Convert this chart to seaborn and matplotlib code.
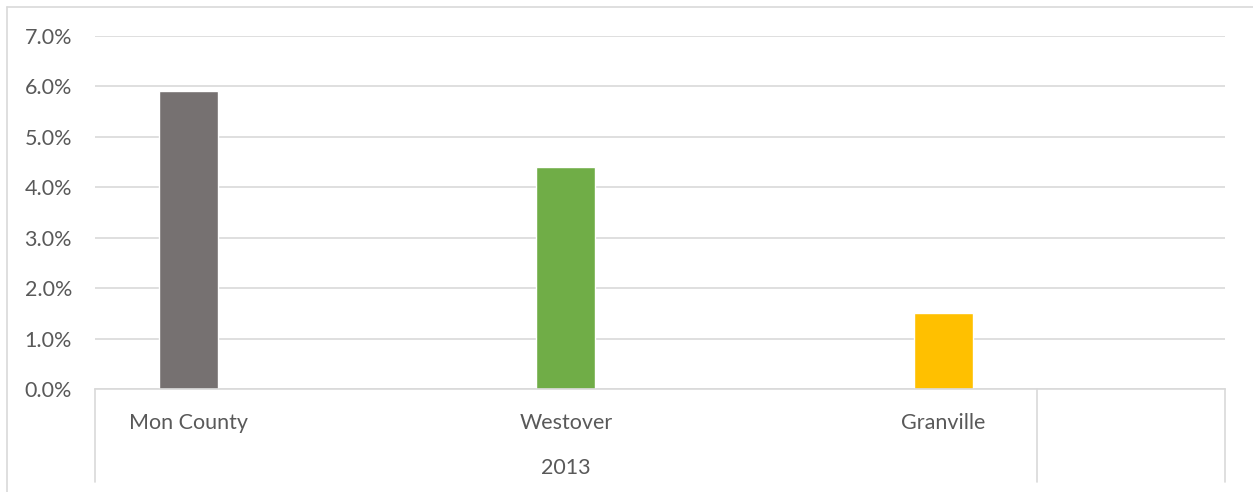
import matplotlib
matplotlib.use("Agg")
import matplotlib.pyplot as plt
import seaborn as sns
import pandas as pd
from matplotlib.ticker import FuncFormatter
from matplotlib.lines import Line2D

categories = ["Mon County", "Westover", "Granville"]
values = [0.059, 0.044, 0.015]
colors = ["#767171", "#70AD47", "#FFC000"]
group_label = "2013"
y_ticks = [0.0, 0.01, 0.02, 0.03, 0.04, 0.05, 0.06, 0.07]

sns.set_theme(style="white")
plt.rcParams['font.family'] = ['Lato', 'DejaVu Sans']

W, H = 1253, 492
FS = 15.5
fig = plt.figure(figsize=(W / 100, H / 100), dpi=100)
ax = fig.add_axes([95 / W, (H - 389) / H, (1225 - 95) / W, (389 - 36) / H])

df = pd.DataFrame({"cat": categories, "val": values})
sns.barplot(data=df, x="cat", y="val", hue="cat", palette=colors, width=0.157,
            legend=False, ax=ax, saturation=1)

ax.set_ylim(0, 0.07)
ax.set_xlim(-0.248, 2.747)
ax.set_yticks(y_ticks)
ax.yaxis.set_major_formatter(FuncFormatter(lambda v, p: f"{v*100:.1f}%"))
ax.grid(axis="y", color="#D9D9D9", linewidth=1.2)
ax.set_axisbelow(True)
for s in ["top", "right", "left"]:
    ax.spines[s].set_visible(False)
ax.spines["bottom"].set_color("#D9D9D9")
ax.spines["bottom"].set_linewidth(1.2)
ax.set_xlabel("")
ax.set_ylabel("")
ax.tick_params(axis="y", length=0, pad=16.5, labelsize=FS, labelcolor="#595959")
ax.tick_params(axis="x", length=0, pad=17, labelsize=FS, labelcolor="#595959")

# group label row
ax.text(1, -0.0157, group_label, transform=ax.transData, ha="center",
        va="center", fontsize=FS, color="#595959", clip_on=False)
# vertical dividers of multi-level axis
bottom_frac = -(482 - 389) / (389 - 36)
trans = ax.get_xaxis_transform()
for xv in [-0.248, 2.249, 2.747]:
    ax.add_line(Line2D([xv, xv], [0, bottom_frac], transform=trans, color="#D9D9D9",
                       linewidth=1.2, clip_on=False))

# outer chart border (left and top)
fig.add_artist(Line2D([7 / W, 7 / W], [0, (H - 7) / H], transform=fig.transFigure,
                      color="#D9D9D9", linewidth=1.2))
fig.add_artist(Line2D([7 / W, 1], [(H - 7) / H, (H - 7) / H], transform=fig.transFigure,
                      color="#D9D9D9", linewidth=1.2))

fig.savefig("out.png", dpi=100)
